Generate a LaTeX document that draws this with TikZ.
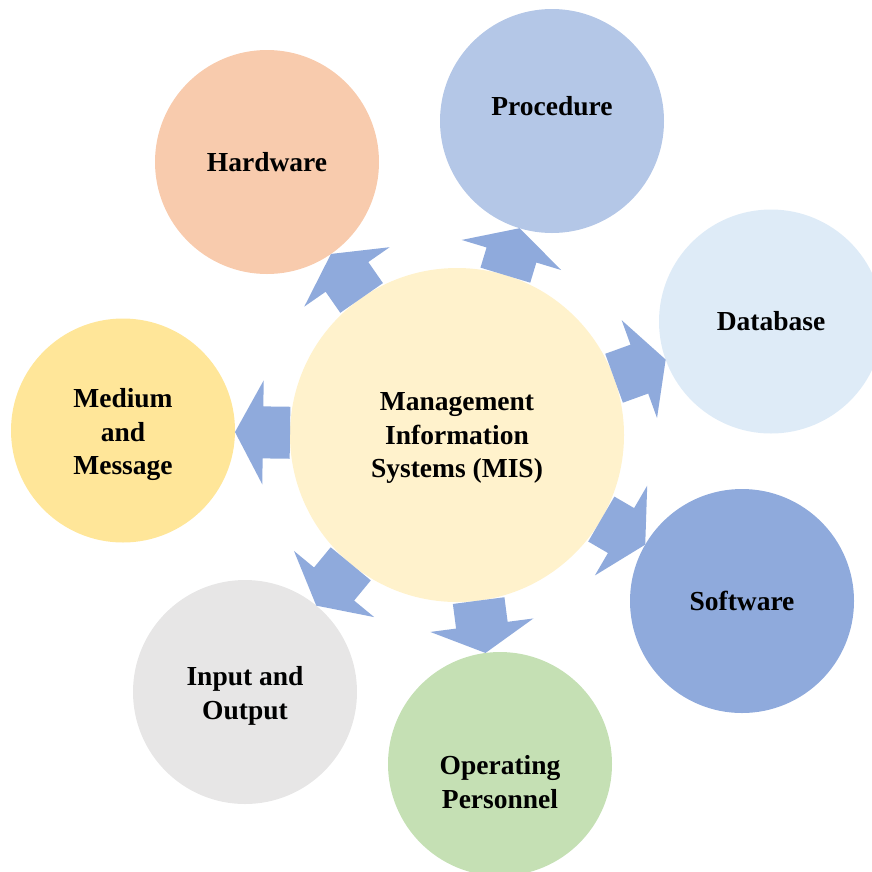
\documentclass[tikz,border=0pt]{standalone}
\usepackage{fontspec}
\setmainfont{Liberation Serif}
\usetikzlibrary{calc}
\definecolor{cmis}{HTML}{FFF2CC}
\definecolor{chw}{HTML}{F8CBAD}
\definecolor{cproc}{HTML}{B4C7E7}
\definecolor{cdb}{HTML}{DEEBF7}
\definecolor{csw}{HTML}{8FAADC}
\definecolor{cop}{HTML}{C5E0B4}
\definecolor{cio}{HTML}{E7E6E6}
\definecolor{cmm}{HTML}{FFE699}
\definecolor{carrow}{HTML}{8FAADC}
\begin{document}
\begin{tikzpicture}[x=1pt,y=-1pt,
  bigcirc/.style={circle,inner sep=0pt,minimum size=334pt,fill=cmis},
  outcirc/.style={circle,inner sep=0pt,minimum size=224pt},
  lbl/.style={align=center,font=\bfseries\fontsize{27.5}{33.5}\selectfont,inner sep=0pt}]
\useasboundingbox (0,0) rectangle (872,871);
\node[bigcirc] (mis) at (457,435) {};
\node[outcirc,fill=chw]   (hw)   at (267,162) {};
\node[outcirc,fill=cproc] (proc) at (552,121) {};
\node[outcirc,fill=cdb]   (db)   at (771,321.5) {};
\node[outcirc,fill=csw]   (sw)   at (742,601) {};
\node[outcirc,fill=cop]   (op)   at (500,764) {};
\node[outcirc,fill=cio]   (io)   at (245,692) {};
\node[outcirc,fill=cmm]   (mm)   at (123,430.5) {};
\foreach \t in {hw,proc,db,sw,op,io,mm}{
  \coordinate (s) at ($(mis.center)!167pt!(\t.center)$);
  \coordinate (e) at ($(\t.center)!112pt!(mis.center)$);
  \coordinate (h) at ($(e)!28pt!(s)$);
  \fill[carrow] ($(s)!26pt!90:(e)$) -- ($(h)!26pt!-90:(s)$) -- ($(h)!52pt!-90:(s)$)
     -- (e) -- ($(h)!52pt!90:(s)$) -- ($(h)!26pt!90:(s)$) -- ($(s)!26pt!-90:(e)$) -- cycle;
}
\node[lbl] (tmis) at ($(mis.center)+(0,3)$) {Management\\Information\\Systems (MIS)};
\node[lbl] (thw) at (hw.center) {Hardware};
\node[lbl] (tproc) at ($(proc.center)+(0,-15)$) {Procedure};
\node[lbl] (tdb) at (db.center) {Database};
\node[lbl] (tsw) at (sw.center) {Software};
\node[lbl] (top) at ($(op.center)+(0,18)$) {Operating\\Personnel};
\node[lbl] (tio) at ($(io.center)+(0,4)$) {Input and\\Output};
\node[lbl] (tmm) at ($(mm.center)+(0,4)$) {Medium\\and\\Message};
\end{tikzpicture}
\end{document}
